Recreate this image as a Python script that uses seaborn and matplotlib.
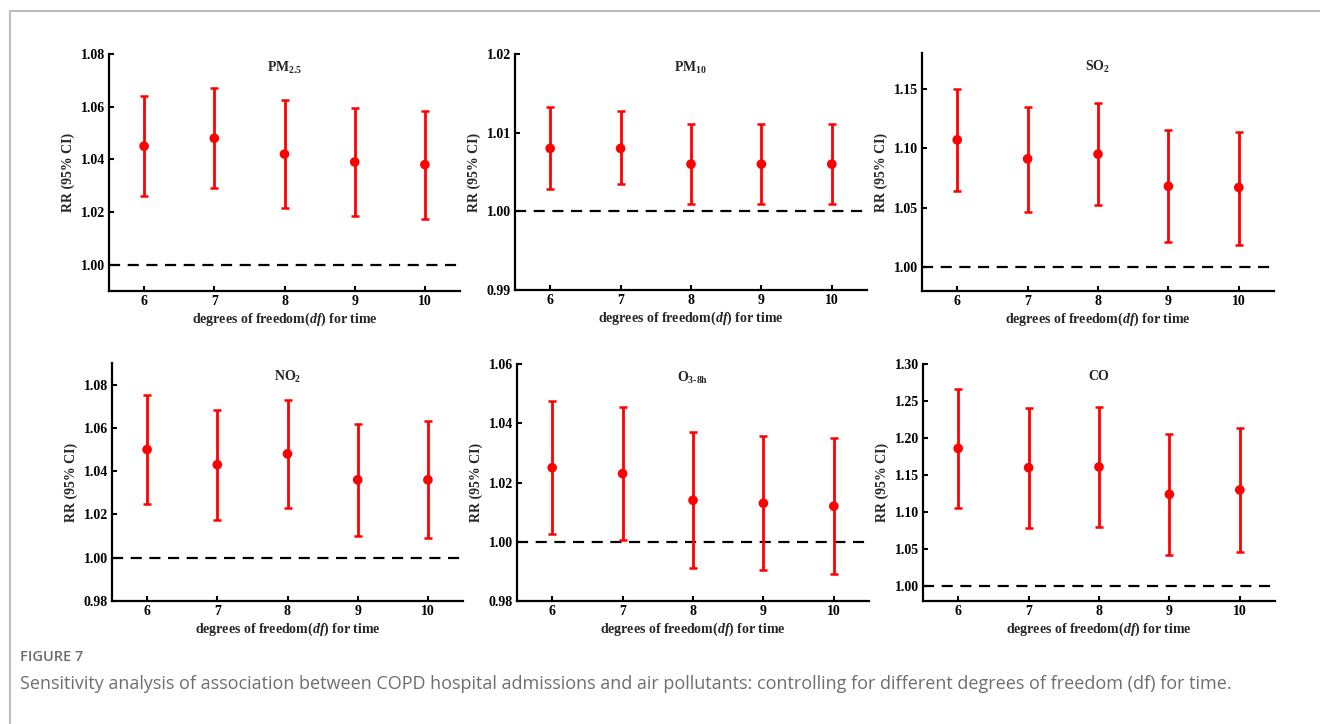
import numpy as np
import pandas as pd
import matplotlib
matplotlib.use("Agg")
import matplotlib.pyplot as plt
import seaborn as sns
from matplotlib.lines import Line2D

# degrees of freedom for time
df_values = [6, 7, 8, 9, 10]

pollutants = ["PM2.5", "PM10", "SO2", "NO2", "O3-8h", "CO"]
titles = [r"PM$_{2.5}$", r"PM$_{10}$", r"SO$_{2}$", r"NO$_{2}$",
          r"O$_{\mathrm{3}\text{-}\mathrm{8h}}$", "CO"]

rr_pm25 = [1.045, 1.048, 1.042, 1.039, 1.038]
lo_pm25 = [1.026, 1.029, 1.0215, 1.0185, 1.0175]
hi_pm25 = [1.064, 1.067, 1.0625, 1.0595, 1.0585]

rr_pm10 = [1.008, 1.008, 1.006, 1.006, 1.006]
lo_pm10 = [1.0029, 1.0035, 1.0009, 1.0009, 1.0009]
hi_pm10 = [1.0132, 1.0127, 1.0111, 1.0111, 1.0111]

rr_so2 = [1.107, 1.091, 1.095, 1.068, 1.067]
lo_so2 = [1.064, 1.046, 1.052, 1.021, 1.019]
hi_so2 = [1.150, 1.135, 1.138, 1.115, 1.114]

rr_no2 = [1.050, 1.043, 1.048, 1.036, 1.036]
lo_no2 = [1.025, 1.0175, 1.023, 1.010, 1.009]
hi_no2 = [1.075, 1.0685, 1.073, 1.062, 1.063]

rr_o3 = [1.025, 1.023, 1.014, 1.013, 1.012]
lo_o3 = [1.0027, 1.0006, 0.991, 0.9905, 0.989]
hi_o3 = [1.0475, 1.0455, 1.037, 1.0356, 1.035]

rr_co = [1.186, 1.160, 1.161, 1.124, 1.130]
lo_co = [1.106, 1.079, 1.080, 1.042, 1.046]
hi_co = [1.266, 1.241, 1.242, 1.206, 1.214]

ylims = [(0.99, 1.08), (0.99, 1.02), (0.98, 1.18), (0.98, 1.09), (0.98, 1.06), (0.98, 1.30)]
yticks = [np.arange(1.00, 1.081, 0.02), np.arange(0.99, 1.021, 0.01), np.arange(1.00, 1.151, 0.05),
          np.arange(0.98, 1.081, 0.02), np.arange(0.98, 1.061, 0.02), np.arange(1.00, 1.301, 0.05)]

rows = []
for name, rr, lo, hi in zip(pollutants,
                            [rr_pm25, rr_pm10, rr_so2, rr_no2, rr_o3, rr_co],
                            [lo_pm25, lo_pm10, lo_so2, lo_no2, lo_o3, lo_co],
                            [hi_pm25, hi_pm10, hi_so2, hi_no2, hi_o3, hi_co]):
    for d, r, l, h in zip(df_values, rr, lo, hi):
        rows.append({"pollutant": name, "df": d, "rr": r, "lo": l, "hi": h})
data = pd.DataFrame(rows)

sns.set_theme(style="ticks")
plt.rcParams["font.family"] = ["Liberation Serif", "DejaVu Serif"]
plt.rcParams["font.weight"] = "bold"
plt.rcParams["mathtext.fontset"] = "custom"
plt.rcParams["mathtext.rm"] = "Liberation Serif:bold"
plt.rcParams["mathtext.bf"] = "Liberation Serif:bold"
plt.rcParams["mathtext.it"] = "Liberation Serif:italic:bold"

fig = plt.figure(figsize=(13.2, 7.24), dpi=100)
W, H = 1320, 724
# panel boxes in pixels: left, top, right, bottom
boxes = [(109, 54, 460, 291), (515, 54, 867, 290), (922, 53, 1274, 291),
         (112, 363, 463, 601), (517, 364, 869, 601), (923, 364, 1275, 601)]

for i, name in enumerate(pollutants):
    l, t, r, b = boxes[i]
    ax = fig.add_axes([l / W, 1 - b / H, (r - l) / W, (b - t) / H])
    sub = data[data["pollutant"] == name]
    ax.axhline(1.0, color="black", lw=1.6, dashes=(5, 3.4), zorder=1)
    ax.errorbar(sub["df"], sub["rr"],
                yerr=[sub["rr"] - sub["lo"], sub["hi"] - sub["rr"]],
                fmt="none", ecolor="#ff0000", elinewidth=2, capsize=3.2, capthick=1.8, zorder=2)
    sns.scatterplot(data=sub, x="df", y="rr", ax=ax, color="#ff0000", s=48,
                    edgecolor="none", zorder=3, legend=False)
    ax.set_xlim(5.5, 10.5)
    ax.set_ylim(*ylims[i])
    ax.set_xticks(df_values)
    ax.set_yticks(yticks[i])
    ax.set_yticklabels([f"{v:.2f}" for v in yticks[i]])
    sns.despine(ax=ax)
    for s in ["left", "bottom"]:
        ax.spines[s].set_linewidth(1.6)
        ax.spines[s].set_color("black")
    ax.tick_params(direction="in", length=3.5, width=1.5, labelsize=10, pad=3, colors="black")
    ax.set_xlabel(r"degrees of freedom($\mathit{df}$) for time", fontsize=10, fontweight="bold", labelpad=2)
    ax.set_ylabel("RR (95% CI)", fontsize=10, fontweight="bold", labelpad=4)
    ax.text(0.5, 0.975, titles[i], transform=ax.transAxes, ha="center", va="top",
            fontsize=10, fontweight="bold")

# frame and caption
fig.add_artist(Line2D([10 / W, 1], [1 - 11 / H, 1 - 11 / H], color="#bdbdbd", lw=1.5))
fig.add_artist(Line2D([10 / W, 10 / W], [0, 1 - 11 / H], color="#bdbdbd", lw=1.5))
fig.text(20 / W, 1 - 657 / H, "FIGURE 7", family="Open Sans", fontsize=10.5, color="#6e6e6e",
         va="center", ha="left", weight="semibold")
fig.text(20 / W, 1 - 684 / H,
         "Sensitivity analysis of association between COPD hospital admissions and air pollutants: "
         "controlling for different degrees of freedom (df) for time.",
         family="Open Sans", fontsize=13, color="#6e6e6e", va="center", ha="left", weight="normal")

fig.savefig("out.png", dpi=100, facecolor="white")
